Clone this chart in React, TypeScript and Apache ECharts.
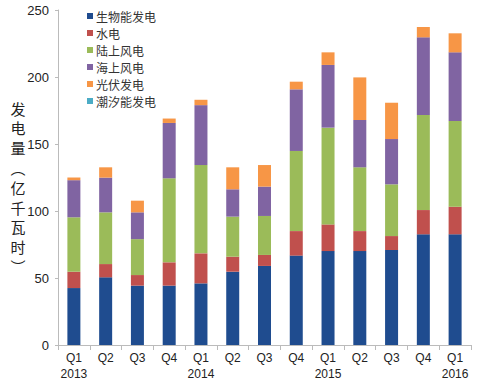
import React, { useEffect, useRef } from "react";
import * as echarts from "echarts";

const categories = ["Q1\n2013", "Q2", "Q3", "Q4", "Q1\n2014", "Q2", "Q3", "Q4", "Q1\n2015", "Q2", "Q3", "Q4", "Q1\n2016"];
const seriesNames = ["生物能发电", "水电", "陆上风电", "海上风电", "光伏发电", "潮汐能发电"];
const bio = [42.5, 50.5, 44.3, 44.3, 46.0, 54.7, 59.0, 66.7, 70.1, 70.1, 70.9, 82.6, 82.6];
const hydro = [12.2, 9.9, 7.9, 17.4, 22.4, 11.2, 8.2, 18.3, 19.9, 14.9, 10.4, 18.1, 20.6];
const onshore = [40.6, 38.6, 26.8, 62.7, 65.9, 29.9, 29.1, 59.8, 72.2, 47.6, 38.6, 70.9, 64.0];
const offshore = [27.7, 25.9, 20.0, 41.3, 44.7, 20.4, 21.9, 46.0, 46.8, 35.3, 33.8, 58.0, 51.2];
const solar = [2.0, 7.7, 8.7, 3.3, 4.0, 16.4, 16.1, 5.7, 9.4, 31.8, 27.1, 7.7, 14.2];
const tidal = [0, 0, 0, 0, 0, 0, 0, 0, 0, 0, 0, 0, 0];
const colors = ["#1F4C8F", "#C0504D", "#9BBB59", "#8064A2", "#F79646", "#4BACC6"];
const yTicks = { min: 0, max: 250, interval: 50 };
const yName = "发电量︵亿千瓦时︶";

export default function App() {
  const ref = useRef<HTMLDivElement>(null);
  useEffect(() => {
    if (!ref.current) return;
    const chart = echarts.init(ref.current, undefined, { renderer: "svg" });
    const data = [bio, hydro, onshore, offshore, solar, tidal];
    chart.setOption({
      animation: false,
      color: colors,
      textStyle: { fontFamily: "'Liberation Sans', 'Noto Sans CJK SC', sans-serif" },
      grid: { left: 58, right: 15, top: 10, bottom: 45 },
      legend: {
        orient: "vertical",
        left: 82,
        top: 5,
        itemWidth: 6,
        itemHeight: 6,
        itemGap: 5,
        icon: "rect",
        data: seriesNames,
        textStyle: { fontSize: 12, color: "#333", fontFamily: "'Noto Sans CJK SC', sans-serif", padding: [0, 0, 0, -2] },
      },
      graphic: yName.split("").map((ch, i) => ({
        type: "text",
        x: 18,
        y: 108 + i * 19.8,
        style: {
          text: ch,
          font: "15px 'Noto Sans CJK SC', sans-serif",
          lineHeight: 15,
          fill: "#222",
          align: "center",
          verticalAlign: "middle",
        },
      })),
      xAxis: {
        type: "category",
        data: categories,
        axisLine: { lineStyle: { color: "#bbb" } },
        axisTick: { show: true, alignWithLabel: false, lineStyle: { color: "#bbb" }, length: 5 },
        axisLabel: { fontSize: 12, color: "#222", lineHeight: 16, margin: 5, interval: 0 },
      },
      yAxis: {
        type: "value",
        min: yTicks.min,
        max: yTicks.max,
        interval: yTicks.interval,
        splitLine: { show: false },
        axisLine: { show: true, lineStyle: { color: "#bbb" } },
        axisTick: { show: true, length: 3, lineStyle: { color: "#bbb" } },
        axisLabel: { fontSize: 13, color: "#222", margin: 9 },
      },
      series: seriesNames.map((name, i) => ({
        name,
        type: "bar",
        stack: "total",
        barWidth: 13,
        data: data[i],
        itemStyle: { color: colors[i] },
      })),
    });
    return () => chart.dispose();
  }, []);
  return <div ref={ref} style={{ width: 486, height: 390, position: "absolute", left: 0, top: 0 }} />;
}
